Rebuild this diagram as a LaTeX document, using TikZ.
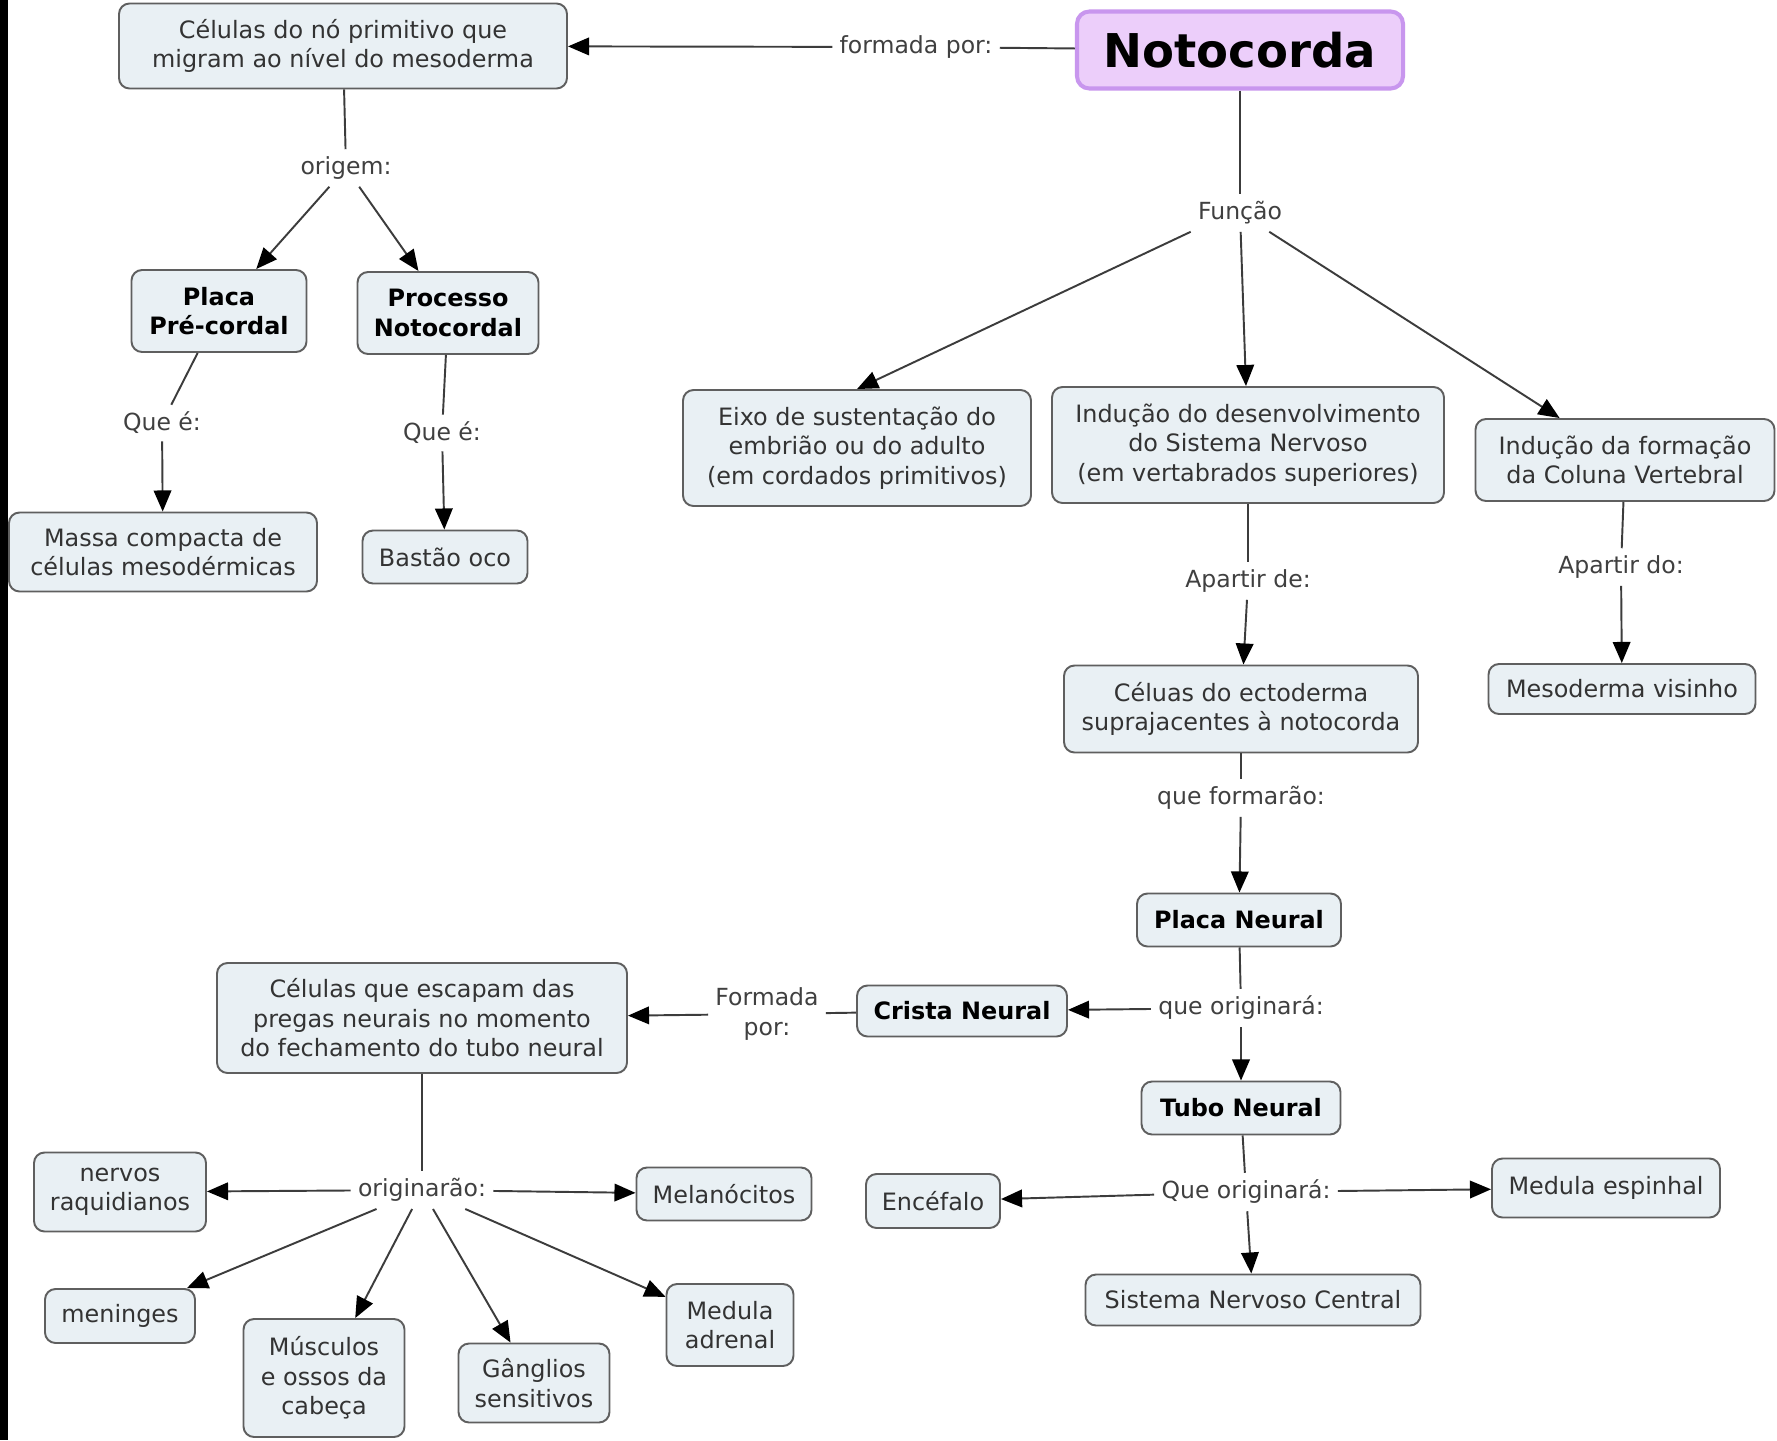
\documentclass[tikz,border=0pt]{standalone}
\usepackage{fontspec}
\setmainfont{DejaVu Sans}
\usetikzlibrary{arrows.meta,shapes,calc,positioning}
\definecolor{boxfill}{RGB}{233,240,244}
\definecolor{boxline}{RGB}{95,95,95}
\definecolor{notofill}{RGB}{236,206,250}
\definecolor{notoline}{RGB}{200,150,238}
\definecolor{linkcol}{RGB}{60,60,60}
\tikzset{box/.style={
            draw=boxline,
            fill=boxfill,
            line width=1.1pt,
            rounded corners=6pt,
            align=center,
            inner sep=0pt,
            text=black!80,
            font=\fontsize{13.6}{16.8}\selectfont
        },
        bold/.style={
            text=black,
            font=\fontsize{13.6}{16.8}\selectfont\bfseries
        },
        mainbox/.style={
            draw=notoline,
            fill=notofill,
            line width=2.3pt,
            rounded corners=7pt,
            inner sep=0pt,
            font=\fontsize{26.5}{30}\selectfont\bfseries
        },
        phrase/.style={
            inner sep=4pt,
            align=center,
            text=black!75,
            font=\fontsize{13.4}{16.8}\selectfont
        },
        sz/.style 2 args={
            minimum width=#1*0.02cm,
            minimum height=#2*0.02cm
        },
        link/.style={
            draw=linkcol,
            line width=1.1pt
        },
        arrow/.style={
            link,
            -{Triangle[length=12pt,width=10pt,color=black]}
        }
    }
\begin{document}
\begin{tikzpicture}[x=0.02cm,y=-0.02cm]
\useasboundingbox (0,0) rectangle (1777,1440);
\fill[white] (0,0) rectangle (1777,1440);
\fill[black] (0,0) rectangle (8,1440);

% top
\node[mainbox, sz={326}{77}] (noto) at (1240,50) {Notocorda};
\node[box, sz={448}{85}] (cel) at (343,46) {Células do nó primitivo que\\migram ao nível do mesoderma};
\node[phrase] (formada) at (916,47) {formada por:};
\node[phrase] (origem) at (346,168) {origem:};
\node[box, bold, sz={175}{82}] (placa) at (219,311) {Placa\\Pré-cordal};
\node[box, bold, sz={181}{82}] (processo) at (448,313) {Processo\\Notocordal};
\node[phrase] (quee1) at (162,423) {Que é:};
\node[phrase] (quee2) at (442,433) {Que é:};
\node[box, sz={308}{79}] (massa) at (163,552) {Massa compacta de\\células mesodérmicas};
\node[box, sz={165}{53}] (bastao) at (445,557) {Bastão oco};

% function
\node[phrase] (funcao) at (1240,213) {Função};
\node[box, sz={348}{116}] (eixo) at (857,448) {Eixo de sustentação do\\embrião ou do adulto\\(em cordados primitivos)};
\node[box, sz={392}{116}] (inducaoSN) at (1248,445) {Indução do desenvolvimento\\do Sistema Nervoso\\(em vertabrados superiores)};
\node[box, sz={299}{82}] (inducaoCV) at (1625,460) {Indução da formação\\da Coluna Vertebral};
\node[phrase] (apartirde) at (1248,581) {Apartir de:};
\node[phrase] (apartirdo) at (1621,567) {Apartir do:};
\node[box, sz={354}{87}] (ecto) at (1241,709) {Céluas do ectoderma\\suprajacentes à notocorda};
\node[box, sz={267}{50}] (meso) at (1622,689) {Mesoderma visinho};
\node[phrase] (formarao) at (1241,798) {que formarão:};
\node[box, bold, sz={204}{53}] (placaN) at (1239,920) {Placa Neural};
\node[phrase] (origina1) at (1241,1008) {que originará:};
\node[box, bold, sz={210}{51}] (crista) at (962,1011) {Crista Neural};
\node[phrase] (formada2) at (767,1014) {Formada\\por:};
\node[box, sz={410}{110}] (escapam) at (422,1018) {Células que escapam das\\pregas neurais no momento\\do fechamento do tubo neural};
\node[box, bold, sz={199}{53}] (tubo) at (1241,1108) {Tubo Neural};
\node[phrase] (origina2) at (1246,1192) {Que originará:};
\node[box, sz={134}{54}] (encefalo) at (933,1201) {Encéfalo};
\node[box, sz={228}{59}] (medesp) at (1606,1188) {Medula espinhal};
\node[box, sz={335}{51}] (snc) at (1253,1300) {Sistema Nervoso Central};

% neural crest
\node[phrase] (originarao) at (422,1190) {originarão:};
\node[box, sz={172}{79}] (nervos) at (120,1192) {nervos\\raquidianos};
\node[box, sz={175}{53}] (melano) at (724,1194) {Melanócitos};
\node[box, sz={150}{54}] (meninges) at (120,1316) {meninges};
\node[box, sz={161}{118}] (musculos) at (324,1378) {Músculos\\e ossos da\\cabeça};
\node[box, sz={151}{79}] (ganglios) at (534,1383) {Gânglios\\sensitivos};
\node[box, sz={127}{82}] (medadr) at (730,1325) {Medula\\adrenal};

\draw[link] (noto) -- (formada);
\draw[arrow] (formada) -- (cel);
\draw[link] (cel) -- (origem);
\draw[arrow] (origem) -- (placa);
\draw[arrow] (origem) -- (processo);
\draw[link] (placa) -- (quee1);
\draw[arrow] (quee1) -- (massa);
\draw[link] (processo) -- (quee2);
\draw[arrow] (quee2) -- (bastao);

\draw[link] (noto) -- (funcao);
\draw[arrow] (funcao.south west) -- (eixo.north);
\draw[arrow] (funcao) -- (inducaoSN);
\draw[arrow] (funcao) -- (inducaoCV);
\draw[link] (inducaoSN) -- (apartirde);
\draw[arrow] (apartirde) -- (ecto);
\draw[link] (inducaoCV) -- (apartirdo);
\draw[arrow] (apartirdo) -- (meso);
\draw[link] (ecto) -- (formarao);
\draw[arrow] (formarao) -- (placaN);
\draw[link] (placaN) -- (origina1);
\draw[arrow] (origina1) -- (crista);
\draw[arrow] (origina1) -- (tubo);
\draw[link] (crista) -- (formada2);
\draw[arrow] (formada2) -- (escapam);
\draw[link] (tubo) -- (origina2);
\draw[arrow] (origina2) -- (encefalo);
\draw[arrow] (origina2) -- (medesp);
\draw[arrow] (origina2) -- (snc);

\draw[link] (escapam) -- (originarao);
\foreach \target in {nervos,melano,meninges,musculos,ganglios,medadr}
    \draw[arrow] (originarao) -- (\target);
\end{tikzpicture}
\end{document}
